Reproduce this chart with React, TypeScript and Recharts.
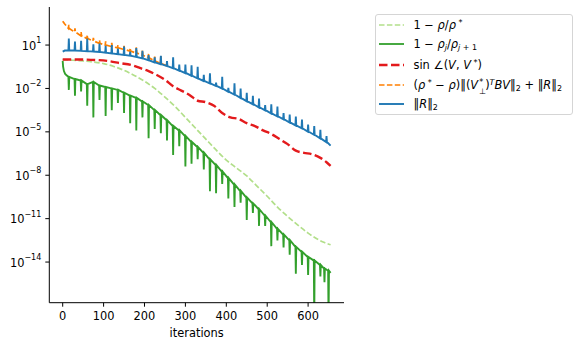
import { LineChart, Line, XAxis, YAxis } from "recharts";

const FONT = "DejaVu Sans";

const xTicks = [0, 100, 200, 300, 400, 500, 600];
const yTickExps = [1, -2, -5, -8, -11, -14];

// values are log10 of what is plotted
// smooth curves: [iteration, log10 value]
const lightGreenPts: [number, number][] = [
  [0, -0.02], [25, -0.05], [50, -0.1], [75, -0.17], [100, -0.28], [125, -0.48],
  [150, -0.75], [175, -1.1], [200, -1.5], [225, -2.0], [250, -2.6], [275, -3.25],
  [300, -4.0], [325, -4.75], [350, -5.5], [375, -6.25], [400, -6.95], [425, -7.5],
  [450, -8.05], [475, -8.75], [500, -9.45], [525, -10.2], [550, -10.85],
  [575, -11.45], [600, -12.0], [625, -12.45], [640, -12.65], [655, -12.8],
];

const redPts: [number, number][] = [
  [0, 0.0], [40, 0.0], [80, -0.03], [110, -0.1], [140, -0.25], [170, -0.4],
  [190, -0.6], [210, -0.8], [230, -1.07], [250, -1.4], [270, -1.85], [290, -2.15],
  [310, -2.45], [330, -2.85], [350, -2.95], [370, -3.2], [390, -3.7], [410, -4.0],
  [430, -4.1], [450, -4.4], [470, -4.6], [490, -4.9], [510, -5.15], [530, -5.5],
  [550, -5.85], [570, -6.3], [590, -6.45], [610, -6.55], [630, -6.8], [645, -7.1],
  [655, -7.35],
];

// spiky curves: [iteration, baseline, spike tip]
const greenHead: [number, number][] = [[0, -0.1], [1, -0.5], [3, -0.8], [6, -1.0], [10, -1.1]];
const greenSpikes: [number, number, number][] = [
  [15, -1.2, -2.1], [30, -1.35, -2.5], [45, -1.45, -2.2], [60, -1.7, -3.2],
  [75, -1.55, -4.0], [90, -1.8, -2.8], [105, -1.9, -3.9], [120, -2.0, -3.5],
  [135, -2.1, -3.0], [150, -2.3, -3.7], [165, -2.5, -4.4], [180, -2.65, -4.9],
  [195, -2.9, -4.0], [210, -3.15, -5.45], [225, -3.5, -4.8], [240, -3.85, -5.1],
  [255, -4.2, -5.6], [270, -4.6, -6.6], [285, -4.9, -6.0], [300, -5.3, -7.4],
  [315, -5.7, -7.2], [330, -6.05, -6.9], [345, -6.45, -7.6], [360, -6.9, -9.1],
  [375, -7.3, -9.25], [390, -7.75, -8.6], [405, -8.2, -9.6], [420, -8.65, -10.2],
  [435, -9.1, -9.9], [450, -9.55, -11.1], [465, -9.95, -10.6], [480, -10.35, -11.5],
  [495, -10.8, -11.5], [510, -11.25, -12.9], [525, -11.7, -12.5], [540, -12.1, -13.0],
  [555, -12.5, -13.5], [570, -12.95, -14.8], [585, -13.3, -14.2], [600, -13.65, -14.9],
  [615, -13.9, -18], [630, -14.2, -15.0], [640, -14.45, -15.4], [650, -14.6, -18],
];
const greenTail: [number, number][] = [[655, -14.75]];

const orangeHead: [number, number][] = [[0, 2.65], [5, 2.45]];
const orangeSpikes: [number, number, number][] = [
  [15, 2.15, 2.4], [30, 1.9, 2.15], [45, 1.65, 1.9], [60, 1.45, 1.7], [75, 1.28, 1.5],
  [90, 1.12, 1.35], [105, 1.0, 1.25], [120, 0.9, 1.15], [135, 0.8, 1.0], [150, 0.7, 0.95],
  [165, 0.58, 0.8], [180, 0.45, 0.85], [195, 0.3, 0.65], [210, 0.12, 0.4],
  [225, -0.1, 0.2], [240, -0.28, 0.3],
];
const orangeTail: [number, number][] = [[255, -0.43]];

const blueHead: [number, number][] = [[0, 0.55], [5, 0.62]];
const blueSpikes: [number, number, number][] = [
  [15, 0.62, 1.45], [30, 0.62, 1.25], [45, 0.6, 1.3], [60, 0.58, 1.45], [75, 0.55, 1.05],
  [90, 0.52, 1.1], [105, 0.47, 0.95], [120, 0.42, 1.0], [135, 0.37, 0.75], [150, 0.32, 0.9],
  [165, 0.26, 0.55], [180, 0.18, 0.8], [195, 0.08, 0.6], [210, -0.05, 0.3],
  [225, -0.2, 0.15], [240, -0.32, 0.25], [255, -0.45, -0.1], [270, -0.6, 0.15],
  [285, -0.77, -0.35], [300, -0.93, -0.35], [315, -1.12, -0.4], [330, -1.3, -0.5],
  [345, -1.48, -1.05], [360, -1.65, -0.95], [375, -1.82, -1.6], [390, -2.0, -1.2],
  [405, -2.22, -1.95], [420, -2.42, -1.65], [435, -2.65, -2.0], [450, -2.88, -2.3],
  [465, -3.08, -2.5], [480, -3.3, -2.7], [495, -3.5, -3.15], [510, -3.72, -3.1],
  [525, -3.92, -3.25], [540, -4.12, -3.7], [555, -4.35, -3.8], [570, -4.55, -3.95],
  [585, -4.75, -4.15], [600, -4.98, -4.5], [615, -5.2, -4.6], [630, -5.45, -4.85],
  [645, -5.7, -5.3],
];
const blueTail: [number, number][] = [[655, -5.95]];

type Pt = { x: number; y: number };

const toPts = (pts: [number, number][]): Pt[] => pts.map(([x, e]) => ({ x, y: 10 ** e }));

// each spike is a single iteration, so it sits between two baseline samples
const spiky = (
  head: [number, number][],
  spikes: [number, number, number][],
  tail: [number, number][]
): Pt[] => [
  ...toPts(head),
  ...spikes.flatMap(([it, base, tip]) => [
    { x: it - 1, y: 10 ** base },
    { x: it, y: 10 ** tip },
    { x: it + 1, y: 10 ** base },
  ]),
  ...toPts(tail),
];

const lightGreenData = toPts(lightGreenPts);
const redData = toPts(redPts);
const greenData = spiky(greenHead, greenSpikes, greenTail);
const orangeData = spiky(orangeHead, orangeSpikes, orangeTail);
const blueData = spiky(blueHead, blueSpikes, blueTail);

const YTick = (props: any) => {
  const { x, y, payload } = props;
  const exp = Math.round(Math.log10(payload.value));
  const label = exp < 0 ? "\u2212" + Math.abs(exp) : String(exp);
  return (
    <text x={x} y={y + 4.5} textAnchor="end" fontSize={11.4} fontFamily={FONT} fill="#000">
      10
      <tspan dy={-6.5} fontSize={8}>{label}</tspan>
    </text>
  );
};

const sup = { fontSize: "0.7em", verticalAlign: "0.5em", lineHeight: 0 };
const sub = { fontSize: "0.7em", verticalAlign: "-0.3em", lineHeight: 0 };

const legendItems = [
  {
    color: "#b2df8a", dash: "5.5 2.4", width: 1.7,
    label: <>1 − <i>ρ</i>/<i>ρ</i><span style={sup}> *</span></>,
  },
  {
    color: "#33a02c", dash: undefined, width: 1.8,
    label: <>1 − <i>ρ</i><span style={sub}><i>j</i></span>/<i>ρ</i><span style={sub}><i>j</i> + 1</span></>,
  },
  {
    color: "#e31a1c", dash: "8.5 3.5", width: 2.4,
    label: <>sin ∠(<i>V</i>, <i>V</i><span style={sup}> *</span>)</>,
  },
  {
    color: "#ff7f00", dash: "5.5 2.4", width: 1.7,
    label: (
      <>
        (<i>ρ</i><span style={sup}> *</span> − <i>ρ</i>)‖(<i>V</i>
        <span style={{ position: "relative", display: "inline-block", width: 7, height: 0, fontSize: 8 }}>
          <span style={{ position: "absolute", left: 1, top: -10.5, height: 8, lineHeight: "8px" }}>*</span>
          <span style={{ position: "absolute", left: 1, top: -1.5, height: 8, lineHeight: "8px" }}>⊥</span>
        </span>
        )<span style={sup}><i>T</i></span><i>BV</i>‖<span style={sub}>2</span> + ‖<i>R</i>‖<span style={sub}>2</span>
      </>
    ),
  },
  {
    color: "#1f78b4", dash: undefined, width: 1.9,
    label: <>‖<i>R</i>‖<span style={sub}>2</span></>,
  },
];
const legendRowY = [10, 29.3, 50, 70.3, 89.3];

const Legend = () => (
  <div
    style={{
      position: "absolute",
      left: 374.5,
      top: 14,
      width: 198,
      height: 101,
      boxSizing: "border-box",
      border: "1px solid #d5d5d5",
      borderRadius: 3,
      background: "#fff",
      fontFamily: FONT,
      fontSize: 11.4,
      color: "#000",
    }}
  >
    {legendItems.map((item, i) => (
      <div
        key={i}
        style={{
          position: "absolute",
          left: 3,
          top: legendRowY[i] - 8,
          height: 16,
          display: "flex",
          alignItems: "center",
          whiteSpace: "nowrap",
        }}
      >
        <svg width={26} height={16} style={{ flex: "none" }}>
          <line x1={0} y1={8} x2={25} y2={8} stroke={item.color} strokeWidth={item.width} strokeDasharray={item.dash} />
        </svg>
        <span style={{ marginLeft: 9, lineHeight: "16px" }}>{item.label}</span>
      </div>
    ))}
  </div>
);

export default function App() {
  return (
    <div style={{ position: "absolute", left: 0, top: 0, width: 582, height: 347, background: "#fff" }}>
      <LineChart
        width={582}
        height={347}
        margin={{ top: 7, right: 238, bottom: 0, left: 0 }}
        style={{ fontFamily: FONT }}
      >
        <XAxis
          type="number"
          dataKey="x"
          domain={[-32.75, 687.75]}
          allowDataOverflow
          ticks={xTicks}
          height={44.3}
          tickSize={4}
          tickMargin={5}
          stroke="#000"
          tick={{ fontSize: 11.4, fill: "#000", fontFamily: FONT }}
          label={{ value: "iterations", position: "insideBottom", offset: 10, fontSize: 11.4, fill: "#000", fontFamily: FONT }}
        />
        <YAxis
          type="number"
          scale="log"
          domain={[10 ** -16.81, 10 ** 3.63]}
          allowDataOverflow
          ticks={yTickExps.map((e) => 10 ** e)}
          width={49.3}
          tickSize={4}
          tickMargin={4}
          stroke="#000"
          tick={<YTick />}
        />
        <Line data={lightGreenData} dataKey="y" type="monotone" stroke="#b2df8a" strokeWidth={1.7} strokeDasharray="5.5 2.4" dot={false} isAnimationActive={false} />
        <Line data={greenData} dataKey="y" type="linear" stroke="#33a02c" strokeWidth={1.9} dot={false} isAnimationActive={false} />
        <Line data={redData} dataKey="y" type="monotone" stroke="#e31a1c" strokeWidth={2.4} strokeDasharray="8.5 3.5" dot={false} isAnimationActive={false} />
        <Line data={orangeData} dataKey="y" type="linear" stroke="#ff7f00" strokeWidth={1.7} strokeDasharray="5.5 2.4" dot={false} isAnimationActive={false} />
        <Line data={blueData} dataKey="y" type="linear" stroke="#1f78b4" strokeWidth={1.9} dot={false} isAnimationActive={false} />
      </LineChart>
      <Legend />
    </div>
  );
}
